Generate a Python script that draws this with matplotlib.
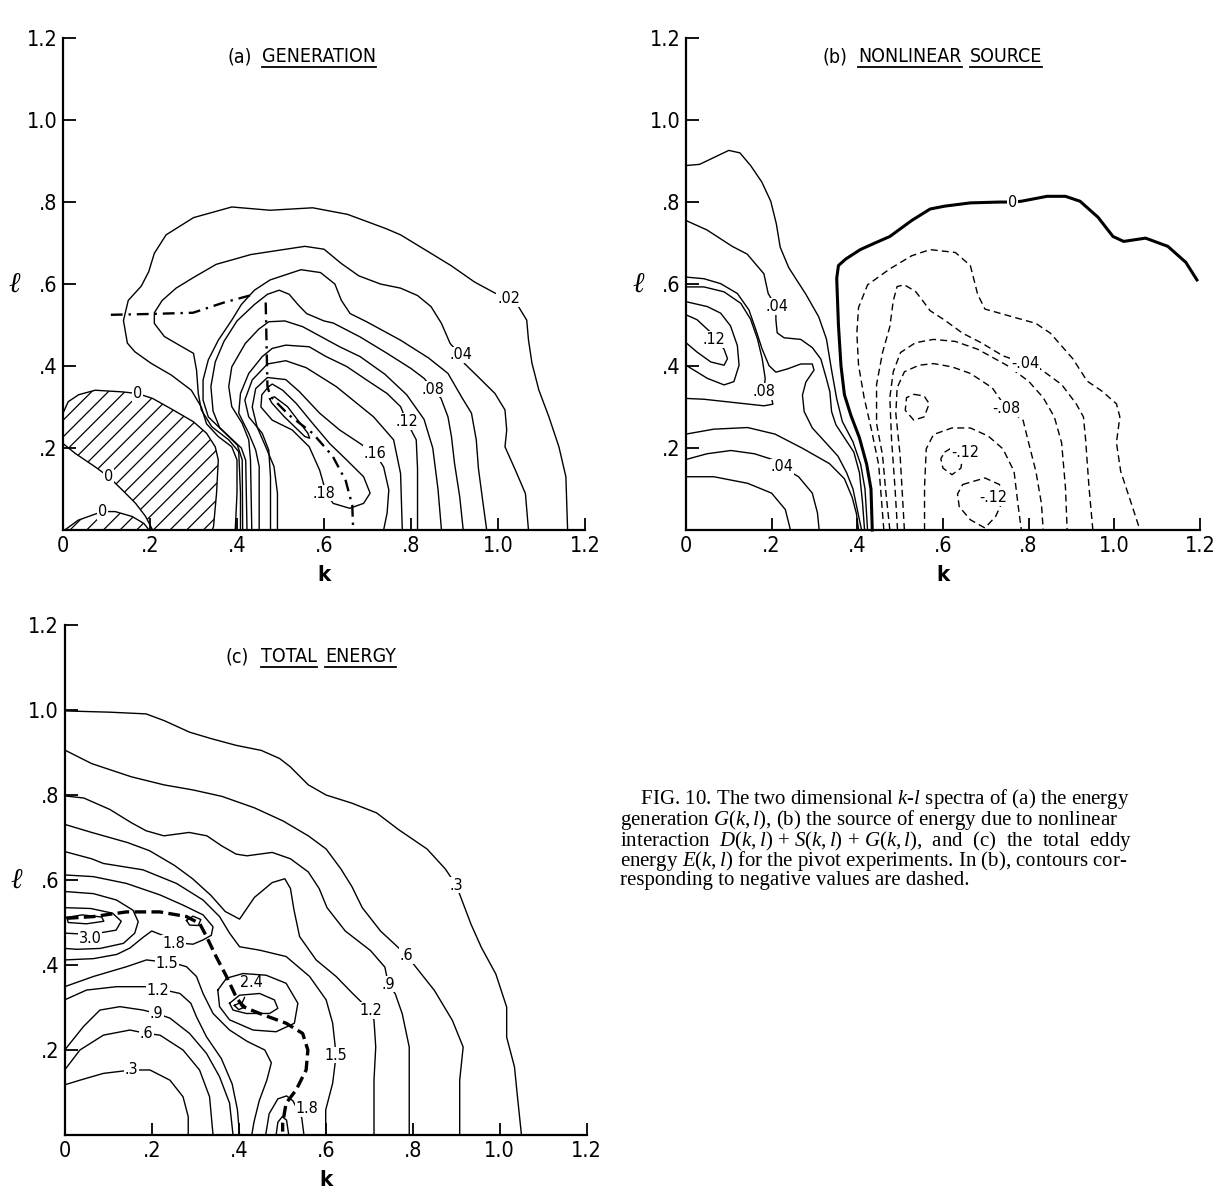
import matplotlib.pyplot as plt
from matplotlib import font_manager
from matplotlib.lines import Line2D

names = {f.name for f in font_manager.fontManager.ttflist}
if 'Liberation Sans Narrow' in names:
    plt.rcParams['font.family'] = ['Liberation Sans Narrow', 'DejaVu Sans']
else:
    plt.rcParams['font.family'] = ['DejaVu Sans']
    plt.rcParams['font.stretch'] = 'condensed'
plt.rcParams['mathtext.fontset'] = 'custom'
plt.rcParams['mathtext.rm'] = 'Liberation Serif'
plt.rcParams['mathtext.it'] = 'Liberation Serif:italic'
plt.rcParams['mathtext.bf'] = 'Liberation Serif:bold'
plt.rcParams['hatch.linewidth'] = 0.9

k_ticks = [0, 0.2, 0.4, 0.6, 0.8, 1.0, 1.2]
k_tick_labels = ['0', '.2', '.4', '.6', '.8', '1.0', '1.2']
l_ticks = [0.2, 0.4, 0.6, 0.8, 1.0, 1.2]
l_tick_labels = ['.2', '.4', '.6', '.8', '1.0', '1.2']

# ---- (a) generation G(k,l): contour lines, (k, l) ----
a_02 = [(0.396, 0), (0.40, 0.09), (0.40, 0.171), (0.388, 0.203), (0.357, 0.228), (0.33, 0.259),
        (0.318, 0.30), (0.295, 0.341), (0.249, 0.378), (0.202, 0.407), (0.165, 0.435), (0.148, 0.456),
        (0.139, 0.511), (0.15, 0.56), (0.18, 0.595), (0.197, 0.63), (0.21, 0.675), (0.237, 0.72),
        (0.30, 0.762), (0.388, 0.788), (0.476, 0.78), (0.574, 0.786), (0.654, 0.77), (0.743, 0.735),
        (0.776, 0.72), (0.838, 0.68), (0.892, 0.645), (0.946, 0.605), (0.993, 0.578), (1.024, 0.565),
        (1.047, 0.545), (1.066, 0.512), (1.07, 0.464), (1.078, 0.407), (1.094, 0.341), (1.117, 0.276),
        (1.14, 0.203), (1.156, 0.13), (1.16, 0)]
a_04 = [(0.408, 0), (0.408, 0.09), (0.404, 0.191), (0.381, 0.22), (0.342, 0.252), (0.318, 0.293),
        (0.311, 0.333), (0.307, 0.39), (0.30, 0.431), (0.272, 0.448), (0.233, 0.472), (0.21, 0.504),
        (0.21, 0.53), (0.228, 0.56), (0.26, 0.59), (0.30, 0.616), (0.352, 0.648), (0.432, 0.672),
        (0.556, 0.692), (0.60, 0.685), (0.64, 0.65), (0.68, 0.62), (0.73, 0.60), (0.776, 0.59),
        (0.815, 0.572), (0.846, 0.545), (0.87, 0.504), (0.89, 0.455), (0.914, 0.427), (0.923, 0.406),
        (0.954, 0.374), (0.993, 0.333), (1.016, 0.293), (1.02, 0.244), (1.016, 0.203), (1.04, 0.146),
        (1.063, 0.089), (1.07, 0)]
a_06 = [(0.413, 0), (0.412, 0.171), (0.401, 0.207), (0.373, 0.236), (0.334, 0.276), (0.322, 0.317),
        (0.322, 0.366), (0.334, 0.415), (0.357, 0.463), (0.388, 0.512), (0.41, 0.55), (0.44, 0.585),
        (0.476, 0.61), (0.547, 0.635), (0.592, 0.628), (0.625, 0.60), (0.64, 0.56), (0.66, 0.528),
        (0.698, 0.508), (0.776, 0.463), (0.84, 0.42), (0.885, 0.382), (0.916, 0.325), (0.939, 0.285),
        (0.95, 0.22), (0.955, 0.15), (0.965, 0.07), (0.974, 0)]
a_08 = [(0.423, 0), (0.42, 0.17), (0.41, 0.20), (0.39, 0.22), (0.36, 0.25), (0.345, 0.29),
        (0.34, 0.35), (0.35, 0.41), (0.37, 0.46), (0.40, 0.51), (0.44, 0.55), (0.47, 0.575),
        (0.497, 0.585), (0.52, 0.575), (0.54, 0.55), (0.56, 0.528), (0.60, 0.51), (0.621, 0.505),
        (0.683, 0.471), (0.745, 0.431), (0.80, 0.394), (0.83, 0.37), (0.851, 0.344), (0.869, 0.321),
        (0.885, 0.276), (0.893, 0.228), (0.90, 0.163), (0.912, 0.081), (0.92, 0)]
a_10 = [(0.434, 0), (0.431, 0.171), (0.427, 0.22), (0.412, 0.26), (0.388, 0.301), (0.381, 0.35),
        (0.388, 0.398), (0.419, 0.455), (0.45, 0.49), (0.473, 0.508), (0.51, 0.51), (0.551, 0.496),
        (0.636, 0.447), (0.683, 0.423), (0.74, 0.38), (0.79, 0.33), (0.83, 0.27), (0.85, 0.20),
        (0.862, 0.10), (0.87, 0)]
a_12 = [(0.451, 0), (0.451, 0.155), (0.443, 0.195), (0.427, 0.236), (0.404, 0.285), (0.408, 0.333),
        (0.427, 0.382), (0.458, 0.423), (0.481, 0.443), (0.512, 0.451), (0.566, 0.447), (0.605, 0.423),
        (0.652, 0.399), (0.698, 0.366), (0.745, 0.333), (0.776, 0.301), (0.79, 0.265), (0.812, 0.22),
        (0.815, 0.15), (0.815, 0)]
a_14 = [(0.477, 0), (0.477, 0.13), (0.473, 0.195), (0.458, 0.236), (0.427, 0.276), (0.418, 0.317),
        (0.435, 0.366), (0.47, 0.405), (0.512, 0.413), (0.559, 0.396), (0.628, 0.35), (0.714, 0.276),
        (0.76, 0.22), (0.776, 0.138), (0.78, 0)]
a_16 = [(0.493, 0), (0.493, 0.09), (0.485, 0.155), (0.466, 0.203), (0.446, 0.252), (0.435, 0.30),
        (0.443, 0.345), (0.47, 0.372), (0.512, 0.367), (0.543, 0.338), (0.59, 0.285), (0.636, 0.244),
        (0.683, 0.211), (0.718, 0.186), (0.737, 0.154), (0.749, 0.098), (0.745, 0.041), (0.737, 0)]
a_18 = [(0.473, 0.35), (0.457, 0.33), (0.455, 0.30), (0.481, 0.268), (0.527, 0.244), (0.566, 0.203),
        (0.59, 0.146), (0.605, 0.09), (0.621, 0.065), (0.659, 0.053), (0.691, 0.065), (0.706, 0.09),
        (0.691, 0.13), (0.652, 0.171), (0.613, 0.211), (0.574, 0.26), (0.536, 0.309), (0.505, 0.341),
        (0.481, 0.356), (0.473, 0.35)]
a_20 = [(0.475, 0.32), (0.486, 0.325), (0.516, 0.301), (0.563, 0.236), (0.567, 0.224), (0.556, 0.228),
        (0.509, 0.276), (0.48, 0.31), (0.475, 0.32)]
a_zero_upper = [(0, 0.285), (0.012, 0.313), (0.036, 0.33), (0.074, 0.341), (0.136, 0.337), (0.171, 0.333),
                (0.206, 0.321), (0.253, 0.293), (0.30, 0.264), (0.33, 0.236), (0.35, 0.203), (0.357, 0.171),
                (0.353, 0.09), (0.346, 0.008), (0.343, 0)]
a_zero_lower = [(0, 0.211), (0.028, 0.187), (0.074, 0.154), (0.105, 0.13), (0.136, 0.098), (0.167, 0.065),
                (0.19, 0.033), (0.206, 0)]
a_zero_small = [(0.004, 0), (0.035, 0.024), (0.09, 0.045), (0.12, 0.045), (0.159, 0.033), (0.186, 0.016),
                (0.198, 0)]
a_ridge_1 = [(0.11, 0.525), (0.20, 0.527), (0.299, 0.53), (0.37, 0.555), (0.44, 0.575)]
a_ridge_2 = [(0.466, 0.555), (0.468, 0.45), (0.47, 0.35), (0.477, 0.326), (0.52, 0.28), (0.574, 0.236),
             (0.62, 0.18), (0.65, 0.12), (0.665, 0.06), (0.667, 0)]
a_labels = [('.02', 1.024, 0.565), ('.04', 0.914, 0.427), ('.08', 0.851, 0.344), ('.12', 0.79, 0.265),
            ('.16', 0.718, 0.186), ('.18', 0.60, 0.09), ('0', 0.171, 0.333), ('0', 0.105, 0.13),
            ('0', 0.09, 0.045)]

# ---- (b) nonlinear source ----
b_zero = [(0.435, 0), (0.432, 0.10), (0.422, 0.16), (0.405, 0.225), (0.385, 0.28), (0.37, 0.33),
          (0.362, 0.40), (0.356, 0.50), (0.352, 0.614), (0.356, 0.645), (0.373, 0.661), (0.407, 0.684),
          (0.441, 0.70), (0.476, 0.716), (0.527, 0.755), (0.57, 0.783), (0.604, 0.79), (0.664, 0.798),
          (0.732, 0.80), (0.762, 0.80), (0.783, 0.802), (0.843, 0.814), (0.886, 0.814), (0.92, 0.802),
          (0.962, 0.763), (0.997, 0.716), (1.022, 0.704), (1.073, 0.712), (1.125, 0.692), (1.167, 0.653),
          (1.193, 0.61)]
b_02 = [(0, 0.889), (0.032, 0.892), (0.10, 0.926), (0.126, 0.92), (0.151, 0.889), (0.177, 0.849),
        (0.198, 0.802), (0.211, 0.747), (0.22, 0.69), (0.24, 0.64), (0.28, 0.575), (0.31, 0.52),
        (0.328, 0.466), (0.34, 0.39), (0.352, 0.32), (0.365, 0.265), (0.39, 0.215), (0.408, 0.16),
        (0.418, 0.10), (0.424, 0)]
b_04 = [(0, 0.755), (0.049, 0.732), (0.108, 0.692), (0.143, 0.673), (0.182, 0.625), (0.192, 0.577),
        (0.21, 0.545), (0.21, 0.513), (0.213, 0.481), (0.229, 0.469), (0.268, 0.465), (0.295, 0.445),
        (0.315, 0.417), (0.328, 0.369), (0.336, 0.337), (0.34, 0.289), (0.35, 0.257), (0.37, 0.225),
        (0.392, 0.19), (0.405, 0.14), (0.412, 0.07), (0.417, 0)]
b_06_top = [(0, 0.617), (0.042, 0.613), (0.081, 0.601), (0.12, 0.577), (0.147, 0.537), (0.163, 0.489),
            (0.178, 0.441), (0.194, 0.401), (0.21, 0.385), (0.237, 0.393), (0.268, 0.405), (0.295, 0.405),
            (0.299, 0.39), (0.28, 0.361), (0.272, 0.329), (0.276, 0.289), (0.295, 0.249), (0.33, 0.209),
            (0.355, 0.18), (0.375, 0.14), (0.39, 0.10), (0.40, 0.05), (0.41, 0)]
b_06_low = [(0, 0.234), (0.065, 0.246), (0.144, 0.25), (0.208, 0.234), (0.271, 0.20), (0.335, 0.162),
            (0.37, 0.125), (0.388, 0.08), (0.398, 0.04), (0.403, 0)]
b_08 = [(0, 0.593), (0.042, 0.593), (0.089, 0.581), (0.128, 0.553), (0.151, 0.514), (0.167, 0.466),
        (0.178, 0.418), (0.185, 0.37), (0.182, 0.338), (0.20, 0.321), (0.203, 0.307), (0.182, 0.303),
        (0.112, 0.311), (0.042, 0.319), (0, 0.321)]
b_10 = [(0, 0.557), (0.05, 0.545), (0.081, 0.529), (0.104, 0.498), (0.12, 0.45), (0.124, 0.402),
        (0.112, 0.362), (0.089, 0.354), (0.05, 0.37), (0, 0.402)]
b_12 = [(0, 0.525), (0.026, 0.513), (0.06, 0.48), (0.089, 0.441), (0.097, 0.418), (0.089, 0.402),
        (0.058, 0.41), (0.026, 0.434), (0, 0.457)]
b_04_low = [(0, 0.172), (0.049, 0.186), (0.105, 0.194), (0.16, 0.186), (0.208, 0.17), (0.224, 0.154),
            (0.263, 0.13), (0.295, 0.09), (0.307, 0.042), (0.311, 0)]
b_02_low = [(0, 0.13), (0.065, 0.13), (0.144, 0.114), (0.20, 0.09), (0.232, 0.05), (0.244, 0)]
b_m02 = [(0.462, 0), (0.45, 0.159), (0.433, 0.245), (0.416, 0.323), (0.403, 0.402), (0.399, 0.48),
         (0.403, 0.543), (0.424, 0.598), (0.476, 0.637), (0.527, 0.669), (0.57, 0.684), (0.629, 0.677),
         (0.664, 0.645), (0.681, 0.575), (0.698, 0.539), (0.749, 0.524), (0.817, 0.504), (0.851, 0.48),
         (0.903, 0.418), (0.937, 0.363), (0.971, 0.339), (1.005, 0.308), (1.013, 0.276), (1.005, 0.213),
         (1.015, 0.143), (1.04, 0.064), (1.06, 0)]
b_m04 = [(0.476, 0), (0.466, 0.10), (0.459, 0.182), (0.445, 0.26), (0.445, 0.355), (0.459, 0.433),
         (0.476, 0.496), (0.484, 0.559), (0.493, 0.594), (0.51, 0.598), (0.536, 0.582), (0.553, 0.559),
         (0.57, 0.535), (0.604, 0.512), (0.646, 0.48), (0.689, 0.457), (0.74, 0.425), (0.792, 0.406),
         (0.826, 0.394), (0.877, 0.355), (0.911, 0.308), (0.928, 0.276), (0.933, 0.221), (0.941, 0.104),
         (0.95, 0)]
b_m06 = [(0.494, 0), (0.488, 0.104), (0.48, 0.221), (0.476, 0.323), (0.484, 0.386), (0.501, 0.433),
         (0.536, 0.457), (0.578, 0.465), (0.629, 0.46), (0.681, 0.441), (0.749, 0.402), (0.80, 0.363),
         (0.834, 0.323), (0.86, 0.276), (0.877, 0.213), (0.886, 0.104), (0.89, 0)]
b_m08 = [(0.51, 0), (0.50, 0.182), (0.49, 0.284), (0.493, 0.347), (0.51, 0.386), (0.544, 0.402),
         (0.578, 0.406), (0.621, 0.398), (0.664, 0.382), (0.715, 0.347), (0.749, 0.296), (0.787, 0.268),
         (0.80, 0.213), (0.817, 0.143), (0.83, 0.064), (0.834, 0)]
b_m10_loop = [(0.532, 0.331), (0.556, 0.327), (0.568, 0.308), (0.556, 0.276), (0.532, 0.268),
              (0.512, 0.292), (0.515, 0.323), (0.532, 0.331)]
b_m10 = [(0.557, 0), (0.557, 0.104), (0.561, 0.198), (0.578, 0.233), (0.621, 0.249), (0.664, 0.249),
         (0.706, 0.229), (0.74, 0.198), (0.766, 0.143), (0.775, 0.064), (0.783, 0)]
b_m12_a = [(0.604, 0.19), (0.629, 0.206), (0.646, 0.182), (0.642, 0.151), (0.621, 0.135), (0.60, 0.151),
           (0.595, 0.174), (0.604, 0.19)]
b_m12_b = [(0.646, 0.111), (0.698, 0.127), (0.732, 0.111), (0.74, 0.072), (0.723, 0.033), (0.698, 0.005),
           (0.664, 0.025), (0.638, 0.057), (0.634, 0.088), (0.646, 0.111)]
b_labels = [('0', 0.762, 0.80), ('.04', 0.212, 0.545), ('.12', 0.065, 0.465), ('.08', 0.182, 0.338),
            ('.04', 0.224, 0.154), ('-.04', 0.792, 0.406), ('-.08', 0.749, 0.296), ('-.12', 0.652, 0.19),
            ('-.12', 0.718, 0.08)]

# ---- (c) total eddy energy ----
c_u03 = [(0, 0.998), (0.104, 0.995), (0.187, 0.991), (0.229, 0.975), (0.287, 0.948), (0.336, 0.933),
         (0.394, 0.917), (0.452, 0.905), (0.494, 0.886), (0.518, 0.867), (0.56, 0.824), (0.601, 0.80),
         (0.66, 0.781), (0.717, 0.758), (0.767, 0.719), (0.833, 0.673), (0.875, 0.626), (0.90, 0.588),
         (0.934, 0.496), (0.958, 0.441), (0.991, 0.379), (1.016, 0.301), (1.016, 0.23), (1.034, 0.16),
         (1.04, 0.098), (1.05, 0)]
c_u06 = [(0, 0.906), (0.062, 0.874), (0.153, 0.843), (0.228, 0.824), (0.295, 0.812), (0.361, 0.797),
         (0.436, 0.77), (0.502, 0.739), (0.56, 0.704), (0.601, 0.673), (0.635, 0.626), (0.66, 0.585),
         (0.684, 0.535), (0.726, 0.48), (0.767, 0.441), (0.785, 0.422), (0.802, 0.402), (0.85, 0.34),
         (0.891, 0.27), (0.916, 0.207), (0.908, 0.129), (0.908, 0)]
c_u09 = [(0, 0.798), (0.044, 0.793), (0.104, 0.766), (0.153, 0.735), (0.187, 0.716), (0.228, 0.704),
         (0.286, 0.712), (0.327, 0.704), (0.36, 0.681), (0.394, 0.661), (0.419, 0.657), (0.477, 0.665),
         (0.519, 0.65), (0.56, 0.619), (0.585, 0.58), (0.603, 0.535), (0.645, 0.48), (0.703, 0.434),
         (0.736, 0.395), (0.744, 0.355), (0.76, 0.332), (0.776, 0.285), (0.792, 0.207), (0.792, 0.113),
         (0.792, 0)]
c_u12 = [(0, 0.731), (0.062, 0.712), (0.145, 0.688), (0.195, 0.669), (0.253, 0.634), (0.294, 0.603),
         (0.336, 0.564), (0.369, 0.526), (0.402, 0.508), (0.436, 0.559), (0.477, 0.594), (0.506, 0.603),
         (0.519, 0.58), (0.527, 0.53), (0.54, 0.467), (0.578, 0.412), (0.624, 0.373), (0.662, 0.333),
         (0.685, 0.31), (0.703, 0.293), (0.711, 0.27), (0.715, 0.207), (0.711, 0.129), (0.711, 0)]
c_u15 = [(0, 0.667), (0.062, 0.65), (0.089, 0.639), (0.18, 0.624), (0.257, 0.592), (0.318, 0.553),
         (0.356, 0.514), (0.379, 0.475), (0.402, 0.443), (0.448, 0.435), (0.509, 0.42), (0.563, 0.373),
         (0.601, 0.318), (0.616, 0.263), (0.624, 0.188), (0.616, 0.122), (0.60, 0.059), (0.60, 0)]
c_u18 = [(0, 0.612), (0.066, 0.608), (0.142, 0.592), (0.219, 0.565), (0.272, 0.541), (0.318, 0.518),
         (0.341, 0.49), (0.337, 0.47), (0.318, 0.459), (0.295, 0.449), (0.272, 0.451), (0.23, 0.468),
         (0.20, 0.48), (0.18, 0.465), (0.15, 0.44), (0.12, 0.425), (0.066, 0.415), (0, 0.412)]
c_loop_a = [(0, 0.573), (0.066, 0.568), (0.119, 0.553), (0.157, 0.529), (0.169, 0.502), (0.161, 0.475),
            (0.135, 0.451), (0.081, 0.439), (0.028, 0.437), (0, 0.439)]
c_loop_b = [(0, 0.535), (0.06, 0.533), (0.11, 0.522), (0.13, 0.503), (0.118, 0.482), (0.06, 0.472),
            (0, 0.475)]
c_loop_c = [(0.005, 0.512), (0.04, 0.518), (0.085, 0.513), (0.09, 0.503), (0.05, 0.497), (0.008, 0.50),
            (0.005, 0.512)]
c_loop_s = [(0.28, 0.505), (0.295, 0.515), (0.313, 0.507), (0.307, 0.493), (0.287, 0.494), (0.28, 0.505)]
c_loop_21 = [(0.352, 0.341), (0.372, 0.369), (0.41, 0.38), (0.463, 0.376), (0.509, 0.357), (0.536, 0.31),
             (0.528, 0.263), (0.486, 0.243), (0.433, 0.247), (0.379, 0.271), (0.356, 0.302), (0.352, 0.341)]
c_loop_24 = [(0.379, 0.31), (0.402, 0.329), (0.448, 0.333), (0.482, 0.318), (0.49, 0.298), (0.471, 0.286),
             (0.417, 0.286), (0.387, 0.294), (0.379, 0.31)]
c_loop_27 = [(0.39, 0.305), (0.405, 0.312), (0.416, 0.302), (0.40, 0.295), (0.39, 0.305)]
c_l03 = [(0, 0.118), (0.035, 0.129), (0.089, 0.145), (0.154, 0.153), (0.196, 0.153), (0.242, 0.129),
         (0.272, 0.09), (0.284, 0.043), (0.284, 0)]
c_l06 = [(0, 0.153), (0.035, 0.20), (0.089, 0.235), (0.15, 0.247), (0.188, 0.239), (0.219, 0.235),
         (0.272, 0.20), (0.31, 0.153), (0.333, 0.09), (0.341, 0)]
c_l09 = [(0, 0.20), (0.043, 0.255), (0.081, 0.294), (0.127, 0.302), (0.18, 0.294), (0.211, 0.286),
         (0.242, 0.275), (0.287, 0.239), (0.326, 0.192), (0.356, 0.137), (0.379, 0.075), (0.387, 0)]
c_l12 = [(0, 0.318), (0.05, 0.341), (0.119, 0.349), (0.188, 0.349), (0.23, 0.341), (0.265, 0.333),
         (0.29, 0.31), (0.303, 0.278), (0.326, 0.231), (0.36, 0.18), (0.385, 0.12), (0.397, 0.06),
         (0.402, 0)]
c_l15 = [(0, 0.349), (0.066, 0.373), (0.142, 0.396), (0.188, 0.412), (0.253, 0.404), (0.28, 0.396),
         (0.303, 0.373), (0.318, 0.333), (0.341, 0.286), (0.379, 0.247), (0.42, 0.22), (0.46, 0.20),
         (0.475, 0.17), (0.465, 0.13), (0.447, 0.08), (0.435, 0.03), (0.43, 0)]
c_arch_18 = [(0.462, 0), (0.47, 0.05), (0.49, 0.085), (0.51, 0.092), (0.525, 0.08), (0.545, 0.04),
             (0.55, 0)]
c_arch_21 = [(0.486, 0), (0.49, 0.03), (0.50, 0.043), (0.51, 0.035), (0.515, 0)]
c_ridge = [(0.005, 0.51), (0.066, 0.514), (0.142, 0.525), (0.219, 0.525), (0.28, 0.514), (0.31, 0.498),
           (0.326, 0.467), (0.348, 0.42), (0.372, 0.373), (0.394, 0.325), (0.41, 0.302), (0.448, 0.286),
           (0.509, 0.263), (0.547, 0.239), (0.559, 0.20), (0.555, 0.153), (0.532, 0.106), (0.509, 0.075),
           (0.501, 0.027), (0.501, 0.008)]
c_labels = [('.3', 0.90, 0.588), ('.6', 0.785, 0.422), ('.9', 0.744, 0.355), ('1.2', 0.703, 0.293),
            ('1.5', 0.624, 0.188), ('1.8', 0.557, 0.063), ('3.0', 0.058, 0.462), ('1.8', 0.25, 0.451),
            ('1.5', 0.235, 0.404), ('1.2', 0.215, 0.341), ('.9', 0.211, 0.286), ('.6', 0.188, 0.239),
            ('.3', 0.154, 0.153)]

caption = [
    r'    FIG. 10. The two dimensional $\mathit{k}$-$\mathit{l}$ spectra of (a) the energy',
    r'generation $G(k,l)$, (b) the source of energy due to nonlinear',
    r'interaction  $D(k,l)$ + $S(k,l)$ + $G(k,l)$,  and  (c)  the  total  eddy',
    r'energy $E(k,l)$ for the pivot experiments. In (b), contours cor-',
    r'responding to negative values are dashed.',
]

fig = plt.figure(figsize=(12.16, 11.97), dpi=100)
ax_a = fig.add_axes([0.0518, 0.5572, 0.4293, 0.411])
ax_b = fig.add_axes([0.5641, 0.5572, 0.4227, 0.411])
ax_c = fig.add_axes([0.0532, 0.0518, 0.4293, 0.426])


def setup(ax):
    ax.set_xlim(0, 1.2)
    ax.set_ylim(0, 1.2)
    for s in ['top', 'right']:
        ax.spines[s].set_visible(False)
    for s in ['left', 'bottom']:
        ax.spines[s].set_linewidth(1.6)
    ax.set_xticks(k_ticks)
    ax.set_xticklabels(k_tick_labels)
    ax.set_yticks(l_ticks)
    ax.set_yticklabels(l_tick_labels)
    ax.tick_params(direction='in', length=9, width=1.3, labelsize=15.5, pad=4)
    ax.set_xlabel('k', fontsize=16, fontweight='bold', labelpad=7)
    ax.text(-0.11, 0.6, r'$\ell$', fontsize=20, ha='center', va='center')


def draw(ax, lines, lw=1.0, **kw):
    for pts in lines:
        ks, ls = zip(*pts)
        ax.plot(ks, ls, color='black', lw=lw, clip_on=False, solid_joinstyle='round', **kw)


def labels(ax, items, size=11.5):
    for s, k, l in items:
        ax.text(k, l, s, fontsize=size, ha='center', va='center', zorder=5,
                bbox=dict(facecolor='white', edgecolor='none', pad=0.6))


for ax in (ax_a, ax_b, ax_c):
    setup(ax)

# (a)
zx = [p[0] for p in a_zero_upper] + [p[0] for p in a_zero_lower[::-1]]
zy = [p[1] for p in a_zero_upper] + [p[1] for p in a_zero_lower[::-1]]
ax_a.fill(zx, zy, facecolor='none', edgecolor='black', hatch='//', linewidth=0)
ax_a.fill([p[0] for p in a_zero_small], [p[1] for p in a_zero_small],
          facecolor='none', edgecolor='black', hatch='//', linewidth=0)
draw(ax_a, [a_02, a_04, a_06, a_08, a_10, a_12, a_14, a_16, a_18, a_20,
            a_zero_upper, a_zero_lower, a_zero_small])
draw(ax_a, [a_ridge_1, a_ridge_2], lw=1.7, linestyle=(0, (5, 2.5, 1, 2.5)))
labels(ax_a, a_labels)

# (b)
draw(ax_b, [b_02, b_04, b_06_top, b_06_low, b_08, b_10, b_12, b_04_low, b_02_low])
draw(ax_b, [b_zero], lw=2.2)
draw(ax_b, [b_m02, b_m04, b_m06, b_m08, b_m10_loop, b_m10, b_m12_a, b_m12_b], linestyle=(0, (5, 3)))
labels(ax_b, b_labels)

# (c)
draw(ax_c, [c_u03, c_u06, c_u09, c_u12, c_u15, c_u18, c_loop_a, c_loop_b, c_loop_c, c_loop_s,
            c_loop_21, c_loop_24, c_loop_27, c_l03, c_l06, c_l09, c_l12, c_l15, c_arch_18, c_arch_21])
draw(ax_c, [c_ridge], lw=2.4, linestyle=(0, (3.5, 1.6)))
labels(ax_c, c_labels)
ax_c.annotate('2.4', xy=(0.405, 0.305), xytext=(0.43, 0.36), fontsize=11.5, ha='center', va='center',
              arrowprops=dict(arrowstyle='-', lw=1.0, shrinkA=4, shrinkB=0))

# caption, one block of text
fig.text(620 / 1216, 1 - 787 / 1197, '\n'.join(caption), fontsize=15, linespacing=0.81,
         family=['Liberation Serif', 'DejaVu Serif'], ha='left', va='top', stretch='normal')

# titles: tag then underlined words, placed one after another
fig.canvas.draw()
renderer = fig.canvas.get_renderer()
inv = fig.transFigure.inverted()
for ax, tag, k_tag, words, k_word, l0 in [(ax_a, '(a)', 0.379, ['GENERATION'], 0.457, 1.154),
                                          (ax_b, '(b)', 0.318, ['NONLINEAR', 'SOURCE'], 0.402, 1.154),
                                          (ax_c, '(c)', 0.37, ['TOTAL', 'ENERGY'], 0.452, 1.125)]:
    ax.text(k_tag, l0, tag, fontsize=14, ha='left', va='center')
    x_disp, y_disp = ax.transData.transform((k_word, l0))
    for w in words:
        kx = ax.transData.inverted().transform((x_disp, y_disp))[0]
        t = ax.text(kx, l0, w, fontsize=14, ha='left', va='center')
        bb = t.get_window_extent(renderer)
        (x0, y0), (x1, _) = inv.transform([(bb.x0, bb.y0 - 1), (bb.x1, bb.y0 - 1)])
        fig.add_artist(Line2D([x0, x1], [y0, y0], transform=fig.transFigure, color='black', lw=1.3))
        x_disp = bb.x1 + 8

fig.savefig('out.png', dpi=100)
